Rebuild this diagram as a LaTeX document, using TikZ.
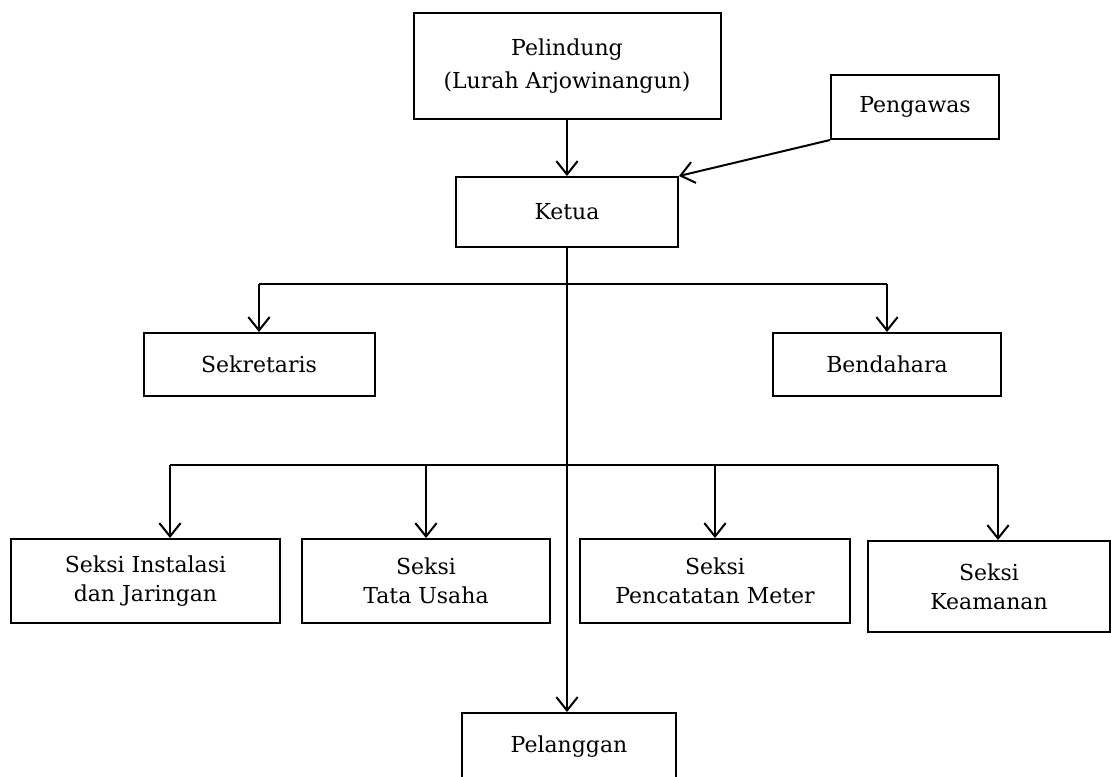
\documentclass[tikz,border=0pt]{standalone}
\usepackage{fontspec}
\setmainfont{DejaVu Serif}
\usetikzlibrary{arrows.meta,positioning}
\tikzset{
	box/.style={draw=black, line width=1.5pt, align=center, inner sep=0pt},
	sz/.style 2 args={minimum width=#1*0.75pt, minimum height=#2*0.75pt},
	link/.style={draw=black, line width=1.5pt},
	arr/.style={draw=black, line width=1.5pt,
		-{Straight Barb[length=10pt,width=16pt]}},
}

\begin{document}
\begin{tikzpicture}[x=0.75pt, y=-0.75pt, font=\fontsize{16.5}{22}\selectfont]
	\useasboundingbox (0,0) rectangle (1111,776);
	% top
	\node[box, sz={307}{106}] (pelindung) at (567,66) {Pelindung\\[3pt](Lurah Arjowinangun)};
	\node[box, sz={168}{64}] (pengawas) at (915,107) {Pengawas};
	\node[box, sz={222}{70}] (ketua) at (567,212) {Ketua};
	% second row
	\node[box, sz={231}{63}] (sekretaris) at (259,364.5) {Sekretaris};
	\node[box, sz={228}{63}] (bendahara) at (887,364.5) {Bendahara};
	% sections
	\node[box, sz={269}{84}] (instalasi) at (145.5,581) {Seksi Instalasi\\dan Jaringan};
	\node[box, sz={248}{84}] (tatausaha) at (426,581) {Seksi\\Tata Usaha};
	\node[box, sz={270}{84}] (pencatatan) at (715,581) {Seksi\\Pencatatan Meter};
	\node[box, sz={242}{91}] (keamanan) at (989,586.5) {Seksi\\Keamanan};
	\node[box, sz={214}{67}] (pelanggan) at (569,746.5) {Pelanggan};
	% buses
	\coordinate (busA) at (567,284);
	\coordinate (busL) at (170,465);
	\coordinate (busR) at (998,465);
	% connectors
	\draw[arr] (pelindung.south) -- (ketua.north);
	\draw[arr] (pengawas.south west) -- (ketua.north east);
	\draw[arr] (ketua.south) -- (ketua.south |- pelanggan.north);
	\draw[link] (sekretaris.north |- busA) -- (bendahara.north |- busA);
	\draw[arr] (sekretaris.north |- busA) -- (sekretaris.north);
	\draw[arr] (bendahara.north |- busA) -- (bendahara.north);
	\draw[link] (busL) -- (busR);
	\draw[arr] (busL) -- (busL |- instalasi.north);
	\draw[arr] (tatausaha.north |- busL) -- (tatausaha.north);
	\draw[arr] (pencatatan.north |- busL) -- (pencatatan.north);
	\draw[arr] (busR) -- (busR |- keamanan.north);
\end{tikzpicture}
\end{document}
